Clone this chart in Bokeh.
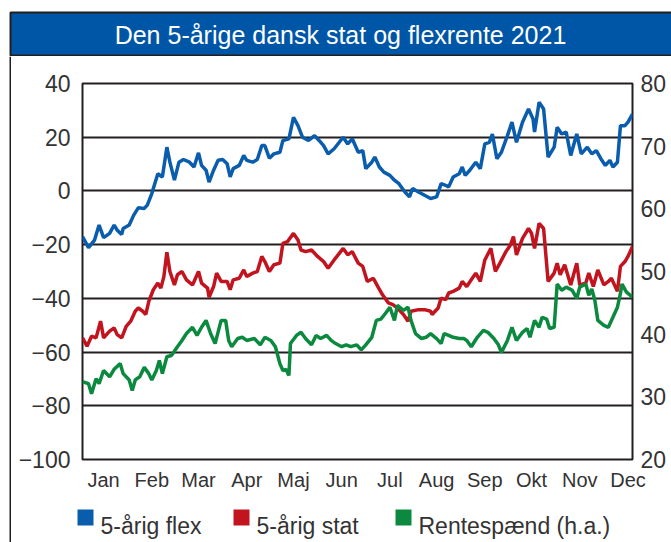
from bokeh.plotting import figure
from bokeh.layouts import column, row
from bokeh.models import (Range1d, LinearAxis, FixedTicker, Label)
from bokeh.core.properties import value
from bokeh.embed import file_html
from bokeh.resources import INLINE

title_text = "Den 5-årige dansk stat og flexrente 2021"
month_labels = ["Jan", "Feb", "Mar", "Apr", "Maj", "Jun", "Jul", "Aug", "Sep", "Okt", "Nov", "Dec"]
month_ticks = [14, 46, 77, 109, 140, 172, 204, 235, 267, 298, 330, 362]
left_ticks = [-100, -80, -60, -40, -20, 0, 20, 40]
right_ticks = [20, 30, 40, 50, 60, 70, 80]
series_names = ["5-årig flex", "5-årig stat", "Rentespænd (h.a.)"]

flex_day = [0, 4, 8, 11, 14, 18, 21, 23, 26, 27, 31, 34, 37, 41, 43, 46, 47, 50, 53, 56, 58, 61, 64, 67, 71, 74, 77, 79,
            82, 84, 87, 90, 93, 96, 98, 100, 104, 107, 109, 113, 116, 119, 121, 124, 127, 131, 133, 137, 140, 143, 146,
            150, 154, 157, 160, 163, 167, 173, 176, 179, 183, 186, 188, 192, 194, 197, 200, 204, 207, 210, 214, 217,
            219, 223, 227, 231, 235, 238, 241, 243, 246, 250, 252, 254, 257, 261, 264, 267, 270, 272, 275, 278, 282,
            285, 288, 292, 296, 299, 300, 303, 306, 309, 313, 315, 318, 321, 324, 328, 331, 335, 338, 341, 344, 347,
            350, 352, 355, 357, 360, 362, 365]
flex_val = [-17, -21.1, -18.3, -12.7, -17.4, -15.8, -12.7, -14.6, -16.2, -14, -12.7, -9, -6.3, -6.5, -5.3, -1, 0.9,
            6.4, 5.2, 16.3, 10.7, 4, 10.7, 11.7, 10.7, 8.9, 14.2, 9.5, 7.7, 3.3, 7.7, 11.4, 11.7, 10.1, 5.2, 8.3, 9.5,
            13.2, 11.4, 10.7, 11.7, 16.9, 16.9, 12.2, 13.8, 14.4, 18.8, 19.4, 27.4, 24.3, 20, 18.8, 20.6, 18.8, 16.9,
            13.8, 15.7, 20, 17.5, 19.4, 14.4, 15, 8.3, 10.7, 12.6, 8.9, 7, 5.8, 4, 2.7, -0.4, -2.2, 0.9, -0.4, -1.6,
            -2.8, -2.2, 2.7, 2.1, 1.5, 5.2, 6.4, 8.9, 5.8, 7.7, 10.7, 8.3, 17.5, 18.1, 21.2, 12, 14.4, 20.6, 25.6,
            18.1, 25.6, 30.5, 26.8, 21.9, 33, 30.5, 12.6, 16.3, 23.7, 21.2, 21.9, 13.2, 21.2, 13.8, 16.3, 13.8, 15,
            12, 9.5, 11.4, 8.9, 10.7, 24.3, 24.3, 25.6, 28.6]

stat_day = [0, 3, 6, 9, 12, 14, 18, 21, 23, 26, 29, 32, 35, 37, 40, 42, 44, 47, 50, 52, 54, 56, 58, 61, 63, 66, 69,
            73, 77, 79, 83, 84, 87, 89, 92, 96, 98, 100, 104, 107, 109, 113, 116, 119, 121, 124, 127, 131, 133, 136,
            140, 143, 145, 148, 152, 156, 160, 163, 167, 173, 176, 179, 183, 186, 189, 193, 196, 199, 203, 206, 209,
            213, 216, 218, 223, 227, 231, 232, 236, 238, 241, 243, 246, 250, 252, 255, 258, 261, 264, 267, 271, 274,
            277, 281, 284, 286, 288, 292, 296, 298, 300, 303, 306, 309, 313, 315, 317, 320, 324, 328, 330, 334, 336,
            339, 342, 346, 349, 351, 355, 357, 360, 362, 365]
stat_val = [-54.7, -57.8, -54.1, -54.7, -48.5, -54.7, -52.2, -51, -53.5, -54.7, -50.4, -48.5, -44.8, -43.6, -44.8,
            -46, -41.1, -36.8, -34.3, -36.2, -31.9, -22.8, -30, -35, -31.2, -30, -33.1, -35, -30, -34.3, -36.2, -39.6,
            -35.6, -30.6, -33.7, -33.7, -36.8, -33.1, -32.5, -29.4, -31.9, -30.6, -30, -24.4, -26.3, -30, -27.5,
            -26.9, -19.5, -18.9, -15.8, -18.3, -22, -22.6, -22, -24.4, -26.3, -28.8, -25.7, -21.4, -23.8, -22.6,
            -26.9, -28.1, -33.7, -32.5, -35.6, -38.6, -41.7, -42.3, -43.6, -46, -48.5, -44.8, -44.2, -44.2, -44.8,
            -46, -43.6, -39.9, -40.5, -38, -37.4, -36.2, -33.7, -35.6, -33.1, -30.6, -33.7, -25.7, -21.4, -30, -26.9,
            -22.6, -20.1, -17, -23.8, -17.7, -14, -15.8, -21.4, -12.1, -14, -33.7, -30.6, -26.9, -31.2, -27.5, -35,
            -26.9, -35, -34.3, -30.6, -35.6, -29.4, -35, -33.7, -32.5, -37.4, -28.1, -26.3, -24.4, -20.7]

spread_day = [0, 4, 6, 9, 11, 14, 18, 21, 25, 27, 31, 33, 35, 38, 41, 44, 46, 49, 51, 53, 56, 59, 63, 66, 69, 73,
              76, 79, 82, 85, 88, 92, 95, 97, 99, 103, 106, 109, 114, 118, 121, 125, 128, 131, 133, 135, 137, 138,
              142, 145, 148, 152, 155, 158, 162, 165, 168, 172, 175, 178, 182, 185, 188, 192, 195, 198, 201, 204,
              207, 209, 213, 216, 218, 221, 225, 228, 231, 235, 238, 240, 243, 246, 250, 253, 255, 258, 262, 266,
              269, 273, 276, 278, 282, 285, 288, 292, 295, 297, 300, 303, 305, 308, 310, 313, 315, 318, 321, 325,
              328, 330, 334, 336, 338, 340, 342, 346, 349, 352, 355, 357, 358, 361, 365]
spread_val = [32.4, 32.1, 30.5, 32.9, 32.1, 34.2, 33.2, 34.4, 35.3, 33.7, 32.7, 31, 32.7, 33.2, 34.7, 33.7, 32.7,
              34.2, 35.8, 33.7, 36.4, 36.6, 38, 39, 40.1, 41.1, 39.8, 41.1, 42.2, 40.1, 38.5, 42.2, 42.2, 39, 38,
              39.3, 39.5, 39, 39.3, 38.3, 39.5, 39, 38, 35.3, 34.2, 34.4, 33.4, 38.5, 39.8, 40.3, 39.3, 38.3, 39.8,
              39.3, 39.8, 39, 38.5, 38, 38.3, 38, 38.3, 37.5, 38.3, 39.5, 42.2, 42.4, 43.3, 44.3, 42.2, 44.6, 43.8,
              44.3, 42.2, 40.1, 39.3, 39.5, 40.1, 39.3, 38.5, 40.1, 39.8, 39.5, 39.3, 39.3, 39, 38, 39.5, 40.6, 40.3,
              39.3, 38.3, 37.1, 39, 41.1, 39, 40.3, 40.9, 39.5, 42.2, 41.1, 42.7, 42.4, 40.9, 41.1, 48, 47, 47.5, 47,
              45.7, 47.5, 48, 46.2, 47.2, 45.4, 42.2, 41.4, 41.1, 42.7, 44.3, 46.5, 48, 46.7, 45.9]

BLUE = "#0a5cad"
RED = "#c1141f"
GREEN = "#0b8a3f"
DARK = "#231f20"
TEXT = "#333333"
TITLE_BG = "#0056a6"
FONT = "Liberation Sans"


def no_align(f):
    if "frame_align" in f.properties():
        f.frame_align = False
    return f


def blank(width, height, xr, yr):
    f = figure(width=width, height=height, x_range=xr, y_range=yr, min_border=0, title=None,
               x_axis_location=None, y_axis_location=None, toolbar_location=None,
               output_backend="svg")
    f.outline_line_color = None
    f.grid.visible = False
    f.background_fill_color = "white"
    f.border_fill_color = "white"
    return no_align(f)


# ---- header (title bar); ranges equal page pixels ----
head = blank(671, 56, Range1d(0, 671), Range1d(56, 0))
head.quad(left=[10], right=[690], top=[12], bottom=[55], fill_color=TITLE_BG, line_color=DARK, line_width=2)
head.add_layout(Label(x=340, y=34, text=title_text, text_align="center", text_baseline="middle",
                      text_color="white", text_font=FONT, text_font_size="25px"))

# ---- left border line of the box ----
edge = blank(11, 486, Range1d(0, 11), Range1d(0, 1))
edge.segment(x0=[10], y0=[0], x1=[10], y1=[1], line_color=DARK, line_width=2)

# ---- main chart ----
p = figure(width=660, height=440, output_backend="svg", toolbar_location=None, title=None,
           x_range=Range1d(0, 365), y_range=Range1d(-100, 40),
           min_border_left=71, min_border_right=39, min_border_top=27, min_border_bottom=37)
no_align(p)
p.extra_y_ranges = {"right": Range1d(20, 80)}
p.background_fill_color = "white"
p.border_fill_color = "white"
p.outline_line_color = DARK
p.outline_line_width = 2

xa = p.xaxis[0]
xa.ticker = FixedTicker(ticks=month_ticks)
xa.major_label_overrides = {t: m for t, m in zip(month_ticks, month_labels)}
ya = p.yaxis[0]
ya.ticker = FixedTicker(ticks=left_ticks)
ra = LinearAxis(y_range_name="right", ticker=FixedTicker(ticks=right_ticks))
p.add_layout(ra, "right")
for ax, fs, so in ((xa, "20px", 9), (ya, "23px", 12), (ra, "23px", 8)):
    ax.axis_line_color = None
    ax.major_tick_line_color = None
    ax.minor_tick_line_color = None
    ax.major_tick_out = 0
    ax.major_tick_in = 0
    ax.minor_tick_out = 0
    ax.major_label_text_font = FONT
    ax.major_label_text_font_size = fs
    ax.major_label_text_color = TEXT
    ax.major_label_standoff = so

p.xgrid.visible = False
p.ygrid.ticker = FixedTicker(ticks=left_ticks)
p.ygrid.grid_line_color = DARK
p.ygrid.grid_line_width = 2

p.line(flex_day, flex_val, line_color=BLUE, line_width=3.5)
p.line(stat_day, stat_val, line_color=RED, line_width=3.5)
p.line(spread_day, spread_val, line_color=GREEN, line_width=3.5, y_range_name="right")

# ---- footer legend; placed higher so that the whole text stays inside its canvas ----
foot = blank(660, 46, Range1d(11, 671), Range1d(542, 496))
swatch_left = [77, 233, 395]
label_left = [100, 256, 418]
swatch_colors = [BLUE, RED, GREEN]
foot.quad(left=swatch_left, right=[v + 16 for v in swatch_left], top=[509] * 3, bottom=[525] * 3,
          fill_color=swatch_colors, line_color=None)
foot.text(x=label_left, y=[525.5] * 3, text=series_names, text_font=value(FONT),
          text_font_size="23px", text_color=TEXT, text_baseline="alphabetic", text_align="left")

layout = column(head, row(edge, column(p, foot)))
open("out.html", "w").write(file_html(layout, INLINE))
